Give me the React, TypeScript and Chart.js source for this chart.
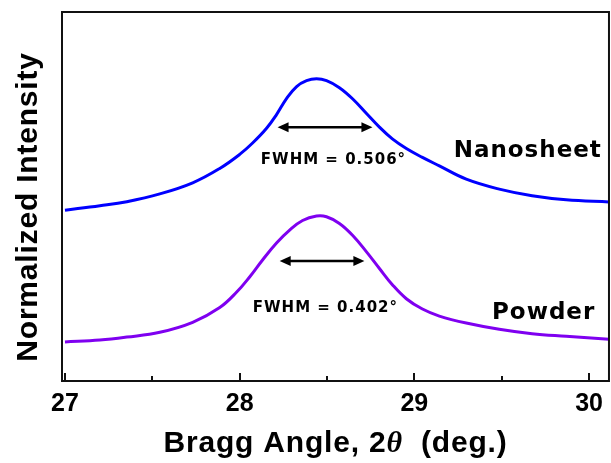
import { useEffect, useRef } from 'react';
import { Chart, registerables } from 'chart.js';

Chart.register(...registerables);

// ---- data (2θ in degrees, normalized intensity) ----
const nanoX = [27.0, 27.2, 27.354, 27.543, 27.731, 27.886, 28.0, 28.074, 28.154, 28.211, 28.269, 28.326, 28.383, 28.44, 28.497, 28.571, 28.646, 28.726, 28.8, 28.874, 28.954, 29.046, 29.143, 29.297, 29.486, 29.674, 29.869, 30.114];
const nanoY = [0.463, 0.475, 0.486, 0.507, 0.537, 0.576, 0.614, 0.645, 0.685, 0.722, 0.766, 0.798, 0.814, 0.819, 0.814, 0.795, 0.765, 0.725, 0.688, 0.656, 0.63, 0.606, 0.583, 0.547, 0.52, 0.502, 0.491, 0.485];
const powderX = [27.0, 27.2, 27.354, 27.543, 27.731, 27.886, 27.983, 28.057, 28.131, 28.211, 28.286, 28.36, 28.44, 28.497, 28.571, 28.646, 28.726, 28.8, 28.874, 28.954, 29.046, 29.143, 29.297, 29.486, 29.674, 29.869, 30.114];
const powderY = [0.106, 0.111, 0.119, 0.132, 0.159, 0.199, 0.241, 0.282, 0.328, 0.374, 0.409, 0.435, 0.447, 0.445, 0.427, 0.395, 0.35, 0.305, 0.261, 0.223, 0.195, 0.176, 0.157, 0.14, 0.128, 0.121, 0.113];

const seriesNames = ['Nanosheet', 'Powder'];
const seriesColors = ['#0000ff', '#7f00f0'];
const majorTicks = [27, 28, 29, 30];
const minorTicks = [27.5, 28.5, 29.5];
const xMin = 26.983;
const xMax = 30.114;

// FWHM annotations
const fwhmLabels = ['FWHM = 0.506°', 'FWHM = 0.402°'];
const fwhmArrowStart = [28.217, 28.229];
const fwhmArrowEnd = [28.76, 28.714];
const fwhmArrowLevel = [0.688, 0.325];
const fwhmTextX = [28.537, 28.491];
const fwhmTextY = [0.588, 0.187];
const nameTextX = [29.649, 29.74];
const nameTextY = [0.607, 0.168];

const xTitleParts = ['Bragg Angle, 2', 'θ', '  (deg.)'];
const yTitle = 'Normalized Intensity';

const SANS = '"Liberation Sans", Arial, sans-serif';
const DEJAVU = '"DejaVu Sans", Verdana, sans-serif';

function toPoints(xs: number[], ys: number[]) {
  return xs.map((x, i) => ({ x, y: ys[i] }));
}

const decorPlugin = {
  id: 'decor',
  afterDatasetsDraw(chart: any) {
    const ctx = chart.ctx as CanvasRenderingContext2D;
    const xs = chart.scales.x;
    const ys = chart.scales.y;
    const area = chart.chartArea;
    ctx.save();
    // frame
    ctx.strokeStyle = '#111';
    ctx.lineWidth = 2;
    ctx.strokeRect(area.left, area.top, area.right - area.left, area.bottom - area.top);
    // tick marks (inward)
    ctx.lineWidth = 2;
    majorTicks.forEach((v) => {
      const px = Math.round(xs.getPixelForValue(v));
      ctx.beginPath();
      ctx.moveTo(px, area.bottom);
      ctx.lineTo(px, area.bottom - 8);
      ctx.stroke();
    });
    minorTicks.forEach((v) => {
      const px = Math.round(xs.getPixelForValue(v));
      ctx.beginPath();
      ctx.moveTo(px, area.bottom);
      ctx.lineTo(px, area.bottom - 5);
      ctx.stroke();
    });
    // arrows
    fwhmLabels.forEach((_, i) => {
      const x0 = xs.getPixelForValue(fwhmArrowStart[i]);
      const x1 = xs.getPixelForValue(fwhmArrowEnd[i]);
      const y = ys.getPixelForValue(fwhmArrowLevel[i]);
      const head = 11;
      const hw = 5;
      ctx.strokeStyle = '#000';
      ctx.fillStyle = '#000';
      ctx.lineWidth = 2.5;
      ctx.beginPath();
      ctx.moveTo(x0 + head - 2, y);
      ctx.lineTo(x1 - head + 2, y);
      ctx.stroke();
      ctx.beginPath();
      ctx.moveTo(x0, y);
      ctx.lineTo(x0 + head, y - hw);
      ctx.lineTo(x0 + head, y + hw);
      ctx.closePath();
      ctx.fill();
      ctx.beginPath();
      ctx.moveTo(x1, y);
      ctx.lineTo(x1 - head, y - hw);
      ctx.lineTo(x1 - head, y + hw);
      ctx.closePath();
      ctx.fill();
    });
    // texts
    ctx.fillStyle = '#000';
    ctx.textAlign = 'center';
    ctx.textBaseline = 'alphabetic';
    (ctx as any).letterSpacing = '1px';
    ctx.font = `bold 15px ${DEJAVU}`;
    fwhmLabels.forEach((t, i) => {
      ctx.fillText(t, xs.getPixelForValue(fwhmTextX[i]), ys.getPixelForValue(fwhmTextY[i]));
    });
    ctx.font = `bold 23px ${DEJAVU}`;
    seriesNames.forEach((t, i) => {
      ctx.fillText(t, xs.getPixelForValue(nameTextX[i]), ys.getPixelForValue(nameTextY[i]));
    });
    ctx.restore();
  },
  afterDraw(chart: any) {
    const ctx = chart.ctx as CanvasRenderingContext2D;
    const area = chart.chartArea;
    ctx.save();
    ctx.fillStyle = '#000';
    ctx.textBaseline = 'alphabetic';
    (ctx as any).letterSpacing = '0.8px';
    // x title
    const fonts = [`bold 30px ${SANS}`, `italic bold 30px "Liberation Serif", serif`, `bold 30px ${SANS}`];
    const widths = xTitleParts.map((t, i) => {
      ctx.font = fonts[i];
      return ctx.measureText(t).width;
    });
    const total = widths.reduce((a, b) => a + b, 0);
    let x = (area.left + area.right) / 2 - total / 2;
    const yBase = 452;
    xTitleParts.forEach((t, i) => {
      ctx.font = fonts[i];
      ctx.textAlign = 'left';
      ctx.fillText(t, x, yBase);
      x += widths[i];
    });
    // y title
    ctx.translate(37, 207);
    ctx.rotate(-Math.PI / 2);
    ctx.font = `bold 30px ${SANS}`;
    ctx.textAlign = 'center';
    ctx.fillText(yTitle, 0, 0);
    ctx.restore();
  },
};

export default function App() {
  const ref = useRef<HTMLCanvasElement | null>(null);
  useEffect(() => {
    document.body.style.margin = '0';
    const canvas = ref.current;
    if (!canvas) return;
    const chart = new Chart(canvas, {
      type: 'line',
      data: {
        datasets: [
          {
            label: seriesNames[0],
            data: toPoints(nanoX, nanoY),
            borderColor: seriesColors[0],
            borderWidth: 3,
            pointRadius: 0,
            tension: 0.4,
            fill: false,
          },
          {
            label: seriesNames[1],
            data: toPoints(powderX, powderY),
            borderColor: seriesColors[1],
            borderWidth: 3,
            pointRadius: 0,
            tension: 0.4,
            fill: false,
          },
        ],
      },
      options: {
        animation: false,
        responsive: false,
        devicePixelRatio: 1,
        layout: { padding: { top: 12, right: 1, left: 0, bottom: 0 } },
        plugins: { legend: { display: false }, tooltip: { enabled: false } },
        scales: {
          x: {
            type: 'linear',
            min: xMin,
            max: xMax,
            grid: { display: false, drawTicks: false },
            border: { display: false },
            afterBuildTicks: (scale: any) => {
              scale.ticks = majorTicks.map((v) => ({ value: v }));
            },
            afterFit: (scale: any) => {
              scale.height = 82;
            },
            ticks: {
              autoSkip: false,
              maxRotation: 0,
              padding: 8,
              color: '#000',
              font: { family: SANS, size: 25, weight: 'bold' },
              callback: (v: any) => String(v),
            },
          },
          y: {
            type: 'linear',
            min: 0,
            max: 1,
            grid: { display: false, drawTicks: false },
            border: { display: false },
            ticks: { display: false },
            afterFit: (scale: any) => {
              scale.width = 62;
            },
          },
        },
      },
      plugins: [decorPlugin],
    } as any);
    return () => chart.destroy();
  }, []);
  return (
    <div style={{ position: 'fixed', left: 0, top: 0, width: 611, height: 463, background: '#fff' }}>
      <canvas ref={ref} width={611} height={463} />
    </div>
  );
}
